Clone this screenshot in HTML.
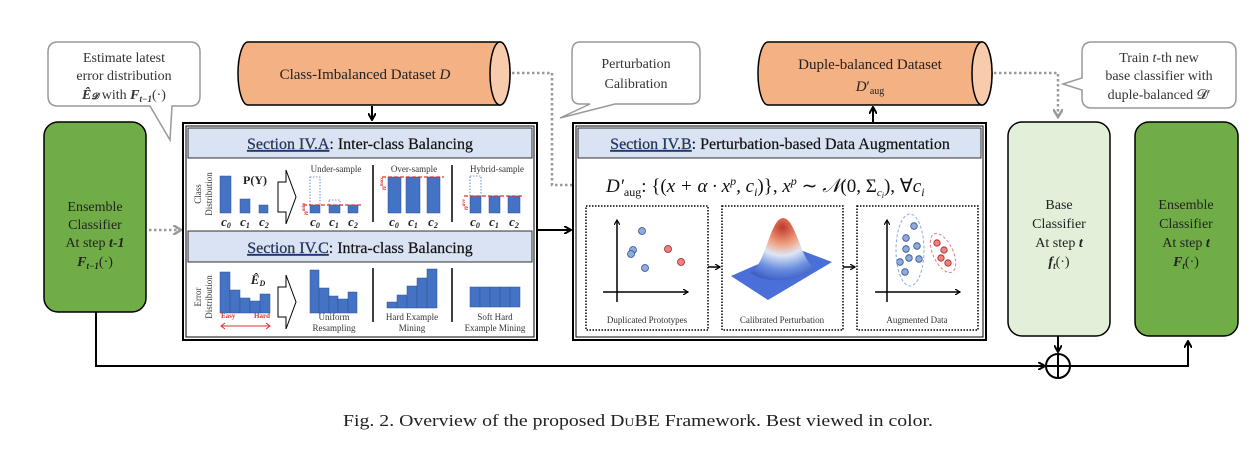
<!DOCTYPE html>
<html><head><meta charset="utf-8"><style>
html,body{margin:0;padding:0;background:#fff;}
svg{display:block;font-family:"Liberation Serif",serif;}
</style></head><body>
<svg width="1254" height="451" viewBox="0 0 1254 451" xmlns="http://www.w3.org/2000/svg">
<defs>
<marker id="ab" markerWidth="8" markerHeight="8" refX="6" refY="4" orient="auto" markerUnits="userSpaceOnUse"><path d="M0,0 L7,4 L0,8" fill="none" stroke="#000" stroke-width="2"/></marker>
<marker id="ag" markerWidth="10" markerHeight="10" refX="7" refY="5" orient="auto" markerUnits="userSpaceOnUse"><path d="M0,0 L8,5 L0,10" fill="none" stroke="#999" stroke-width="2.5"/></marker>
<marker id="as" markerWidth="6" markerHeight="6" refX="5" refY="3" orient="auto" markerUnits="userSpaceOnUse"><path d="M0,0 L5,3 L0,6" fill="none" stroke="#000" stroke-width="1.2"/></marker>
<radialGradient id="gs" cx="0.5" cy="0.15" r="0.9"><stop offset="0" stop-color="#c0392b"/><stop offset="0.3" stop-color="#f0a080"/><stop offset="0.5" stop-color="#dde6f5"/><stop offset="0.75" stop-color="#6b8fe0"/><stop offset="1" stop-color="#3656c0"/></radialGradient>
</defs>

<g fill="#fff" stroke="#999" stroke-width="1.5">
<path d="M58,42 H190 Q200,42 200,52 V96 Q200,106 190,106 H172 L170,140 L150,106 H58 Q48,106 48,96 V52 Q48,42 58,42 Z"/>
<path d="M580,42 H690 Q700,42 700,52 V96 Q700,104 690,104 H615 L560,118 L590,104 H580 Q572,104 572,96 V52 Q572,42 580,42 Z"/>
<path d="M1092,42 H1226 Q1236,42 1236,52 V98 Q1236,108 1226,108 H1092 Q1082,108 1082,98 V90 L1063,84 L1082,78 V52 Q1082,42 1092,42 Z"/>
</g>
<g font-size="14" fill="#333" text-anchor="middle">
<text x="124" y="62">Estimate latest</text>
<text x="124" y="80">error distribution</text>
<text x="124" y="99"><tspan font-weight="bold" font-style="italic">Ê</tspan><tspan font-size="9" font-weight="bold" font-style="italic">𝓓</tspan> with <tspan font-weight="bold" font-style="italic">F</tspan><tspan font-size="9" font-weight="bold" font-style="italic" dy="3">t−1</tspan><tspan dy="-3">(·)</tspan></text>
<text x="636" y="68">Perturbation</text>
<text x="636" y="88">Calibration</text>
<text x="1159" y="62">Train <tspan font-style="italic">t</tspan>-th new</text>
<text x="1159" y="80">base classifier with</text>
<text x="1159" y="99">duple-balanced 𝓓′</text>
</g>

<g stroke="#000" stroke-width="1.5">
<path d="M248,42 H500 A10,31.5 0 0 1 500,105 H248 A10,31.5 0 0 1 248,42 Z" fill="#f4b183"/>
<ellipse cx="500" cy="73.5" rx="10" ry="31.5" fill="#f8cbad"/>
<path d="M768,42 H982 A10,31.5 0 0 1 982,105 H768 A10,31.5 0 0 1 768,42 Z" fill="#f4b183"/>
<ellipse cx="982" cy="73.5" rx="10" ry="31.5" fill="#f8cbad"/>
</g>
<text x="365" y="79" font-size="15" fill="#222" text-anchor="middle">Class-Imbalanced Dataset <tspan font-style="italic">D</tspan></text>
<text x="870" y="69" font-size="15" fill="#222" text-anchor="middle">Duple-balanced Dataset</text>
<text x="870" y="91" font-size="15" fill="#222" text-anchor="middle"><tspan font-style="italic">D</tspan>′<tspan font-size="10" dy="3">aug</tspan></text>

<g fill="none" stroke="#999" stroke-width="2.5" stroke-dasharray="2.5,2.5">
<path d="M512,73 H552 V185 H580" marker-end="url(#ag)"/>
<path d="M994,73 H1058 V116" marker-end="url(#ag)"/>
<path d="M149,230 H180" marker-end="url(#ag)"/>
</g>
<g fill="none" stroke="#000" stroke-width="2">
<path d="M372,106 V119" marker-end="url(#ab)"/>
<path d="M873,122 V108" marker-end="url(#ab)"/>
<path d="M538,230 H570" marker-end="url(#ab)"/>
<path d="M96,312 V366 H1044" marker-end="url(#ab)"/>
<path d="M1058,336 V351" marker-end="url(#ab)"/>
<path d="M1071,366 H1188 V342" marker-end="url(#ab)"/>
</g>
<circle cx="1058" cy="366" r="12" fill="#fff" stroke="#000" stroke-width="2"/>
<path d="M1046,366 H1070 M1058,354 V378" stroke="#000" stroke-width="2"/>

<rect x="44" y="122" width="102" height="190" rx="14" fill="#70ad47" stroke="#000" stroke-width="1.5"/>
<rect x="1008" y="122" width="102" height="214" rx="14" fill="#e2efd9" stroke="#000" stroke-width="1.5"/>
<rect x="1135" y="122" width="103" height="214" rx="14" fill="#70ad47" stroke="#000" stroke-width="1.5"/>
<g font-size="14" fill="#222" text-anchor="middle">
<text x="95" y="211">Ensemble</text><text x="95" y="229">Classifier</text>
<text x="95" y="247">At step <tspan font-style="italic" font-weight="bold">t-1</tspan></text>
<text x="95" y="266"><tspan font-weight="bold" font-style="italic">F</tspan><tspan font-size="9" font-weight="bold" font-style="italic" dy="3">t−1</tspan><tspan dy="-3">(·)</tspan></text>
<text x="1059" y="209">Base</text><text x="1059" y="228">Classifier</text>
<text x="1059" y="247">At step <tspan font-style="italic" font-weight="bold">t</tspan></text>
<text x="1059" y="266"><tspan font-weight="bold" font-style="italic">f</tspan><tspan font-size="9" font-weight="bold" font-style="italic" dy="3">t</tspan><tspan dy="-3">(·)</tspan></text>
<text x="1186" y="209">Ensemble</text><text x="1186" y="228">Classifier</text>
<text x="1186" y="247">At step <tspan font-style="italic" font-weight="bold">t</tspan></text>
<text x="1186" y="266"><tspan font-weight="bold" font-style="italic">F</tspan><tspan font-size="9" font-weight="bold" font-style="italic" dy="3">t</tspan><tspan dy="-3">(·)</tspan></text>
</g>

<rect x="183" y="123" width="354" height="217" fill="#fff" stroke="#000" stroke-width="2"/>
<rect x="186" y="126" width="348" height="211" fill="none" stroke="#000" stroke-width="1"/>
<rect x="188" y="128" width="344" height="30" fill="#dae3f3" stroke="#000" stroke-width="0.8"/>
<rect x="188" y="231" width="344" height="31" fill="#dae3f3" stroke="#000" stroke-width="0.8"/>
<text x="360" y="149" font-size="16" text-anchor="middle" fill="#111" stroke="#111" stroke-width="0.2"><tspan fill="#1f3a7a" text-decoration="underline">Section IV.A</tspan>: Inter-class Balancing</text>
<text x="360" y="253" font-size="16" text-anchor="middle" fill="#111" stroke="#111" stroke-width="0.2"><tspan fill="#1f3a7a" text-decoration="underline">Section IV.C</tspan>: Intra-class Balancing</text>
<g font-size="9" fill="#333" text-anchor="middle">
<text transform="translate(201,194) rotate(-90)">Class</text>
<text transform="translate(212,194) rotate(-90)">Distribution</text>
<text transform="translate(201,297) rotate(-90)">Error</text>
<text transform="translate(212,297) rotate(-90)">Distribution</text>
</g>
<g fill="#4472c4" stroke="#2f528f" stroke-width="0.5">
<rect x="220" y="176" width="11" height="37"/><rect x="240" y="199" width="10" height="14"/><rect x="259" y="205" width="9" height="8"/>
<rect x="310" y="205" width="10" height="8"/><rect x="329" y="205" width="11" height="8"/><rect x="348" y="205" width="10" height="8"/>
<rect x="388" y="177" width="13" height="36"/><rect x="406" y="177" width="14" height="36"/><rect x="427" y="177" width="13" height="36"/>
<rect x="470" y="196" width="11" height="17"/><rect x="489" y="196" width="11" height="17"/><rect x="508" y="196" width="12" height="17"/>
<rect x="220" y="272" width="10" height="41"/><rect x="230" y="290" width="10" height="23"/><rect x="240" y="298" width="10" height="15"/><rect x="250" y="301" width="10" height="12"/><rect x="260" y="294" width="10" height="19"/>
<rect x="310" y="270" width="9" height="43"/><rect x="319" y="288" width="10" height="25"/><rect x="329" y="296" width="9" height="17"/><rect x="338" y="299" width="10" height="14"/><rect x="348" y="292" width="9" height="21"/>
<rect x="387" y="302" width="10" height="6"/><rect x="397" y="295" width="10" height="13"/><rect x="407" y="286" width="10" height="22"/><rect x="417" y="278" width="10" height="30"/><rect x="427" y="269" width="10" height="39"/>
<rect x="470" y="287" width="10" height="20"/><rect x="480" y="287" width="10" height="20"/><rect x="490" y="287" width="10" height="20"/><rect x="500" y="287" width="10" height="20"/><rect x="510" y="287" width="10" height="20"/>
</g>
<g fill="none" stroke="#4472c4" stroke-width="0.8" stroke-dasharray="1.5,1.5">
<rect x="310" y="177" width="10" height="28"/><rect x="329" y="200" width="11" height="5"/><rect x="470" y="176" width="11" height="20"/>
</g>
<g stroke="#e03030" stroke-width="1.2" stroke-dasharray="4,2">
<path d="M303,205 H362"/><path d="M382,177 H444"/><path d="M464,196 H524"/>
</g>
<g font-size="7" fill="#e03030" font-style="italic" font-weight="bold">
<text transform="translate(308,215) rotate(-90)">n<tspan font-size="5" dy="-3">min</tspan></text>
<text transform="translate(386,190) rotate(-90)">n<tspan font-size="5" dy="-3">max</tspan></text>
<text transform="translate(468,210) rotate(-90)">n<tspan font-size="5" dy="-3">ave</tspan></text>
</g>
<g stroke="#000" stroke-width="1.5"><path d="M373,165 V222 M452,165 V222 M373,268 V322 M452,268 V322"/></g>
<g fill="#fff" stroke="#000" stroke-width="1"><path d="M278,182 H286 V170 L296,197 L286,224 V212 H278 Z"/><path d="M278,287 H286 V275 L296,302 L286,329 V317 H278 Z"/></g>
<g font-size="13" fill="#222" font-style="italic" font-weight="bold" text-anchor="middle">
<text x="226" y="226">c<tspan font-size="8" dy="2">0</tspan></text><text x="245" y="226">c<tspan font-size="8" dy="2">1</tspan></text><text x="264" y="226">c<tspan font-size="8" dy="2">2</tspan></text>
<text x="315" y="226">c<tspan font-size="8" dy="2">0</tspan></text><text x="334" y="226">c<tspan font-size="8" dy="2">1</tspan></text><text x="353" y="226">c<tspan font-size="8" dy="2">2</tspan></text>
<text x="394" y="226">c<tspan font-size="8" dy="2">0</tspan></text><text x="413" y="226">c<tspan font-size="8" dy="2">1</tspan></text><text x="433" y="226">c<tspan font-size="8" dy="2">2</tspan></text>
<text x="475" y="226">c<tspan font-size="8" dy="2">0</tspan></text><text x="494" y="226">c<tspan font-size="8" dy="2">1</tspan></text><text x="514" y="226">c<tspan font-size="8" dy="2">2</tspan></text>
<text x="258" y="284">Ê<tspan font-size="8" dy="2">D</tspan></text>
</g>
<text x="255" y="184" font-size="12" font-weight="bold" fill="#222" text-anchor="middle">P(Y)</text>
<g font-size="9" fill="#333" text-anchor="middle">
<text x="336" y="172">Under-sample</text><text x="414" y="172">Over-sample</text><text x="497" y="172">Hybrid-sample</text>
<text x="334" y="320">Uniform</text><text x="334" y="331">Resampling</text>
<text x="412" y="320">Hard Example</text><text x="412" y="331">Mining</text>
<text x="495" y="320">Soft Hard</text><text x="495" y="331">Example Mining</text>
</g>
<text x="221" y="318" font-size="7" fill="#e03030" font-weight="bold">Easy</text>
<text x="270" y="318" font-size="7" fill="#e03030" font-weight="bold" text-anchor="end">Hard</text>
<path d="M222,326 H269 M225,323 L221,326 L225,329 M266,323 L270,326 L266,329" stroke="#e03030" fill="none" stroke-width="1"/>

<rect x="573" y="123" width="413" height="217" fill="#fff" stroke="#000" stroke-width="2"/>
<rect x="576" y="126" width="407" height="211" fill="none" stroke="#000" stroke-width="1"/>
<rect x="578" y="128" width="403" height="30" fill="#dae3f3" stroke="#000" stroke-width="0.8"/>
<text x="780" y="149" font-size="16" text-anchor="middle" fill="#111" stroke="#111" stroke-width="0.2"><tspan fill="#1f3a7a" text-decoration="underline">Section IV.B</tspan>: Perturbation-based Data Augmentation</text>
<text x="606" y="192" font-size="19" fill="#111" font-style="italic">D′<tspan font-size="12" font-style="normal" dy="4">aug</tspan><tspan dy="-4" font-style="normal">: {(</tspan>x + α · x<tspan font-size="12" dy="-7">p</tspan><tspan dy="7">, c</tspan><tspan font-size="12" dy="4">i</tspan><tspan dy="-4" font-style="normal">)}, </tspan>x<tspan font-size="12" dy="-7">p</tspan><tspan dy="7" font-style="normal"> ∼ </tspan>𝒩<tspan font-style="normal">(0, Σ</tspan><tspan font-size="11" dy="4">c</tspan><tspan font-size="8" dy="2">i</tspan><tspan dy="-6" font-style="normal">), ∀</tspan>c<tspan font-size="12" dy="4">i</tspan></text>
<g fill="none" stroke="#000" stroke-width="1.5" stroke-dasharray="1.5,1.5">
<rect x="586" y="206" width="122" height="124"/><rect x="722" y="206" width="121" height="124"/><rect x="857" y="206" width="121" height="124"/>
</g>
<g stroke="#000" stroke-width="1.5" fill="none">
<path d="M617,302 V220" marker-end="url(#as)"/><path d="M603,292 H688" marker-end="url(#as)"/>
<path d="M887,302 V220" marker-end="url(#as)"/><path d="M875,292 H960" marker-end="url(#as)"/>
<path d="M708,267 H720" marker-end="url(#as)"/><path d="M843,267 H855" marker-end="url(#as)"/>
</g>
<g stroke="#2f528f" stroke-width="0.8" fill="#8faadc">
<circle cx="642" cy="231" r="3.5"/><circle cx="633" cy="250" r="3.5"/><circle cx="631" cy="254" r="3.5"/><circle cx="645" cy="268" r="3.5"/>
<circle cx="914" cy="226" r="3.3"/><circle cx="906" cy="238" r="3.3"/><circle cx="906" cy="249" r="3.3"/><circle cx="917" cy="246" r="3.3"/><circle cx="900" cy="262" r="3.3"/><circle cx="909" cy="258" r="3.3"/><circle cx="905" cy="272" r="3.3"/><circle cx="919" cy="259" r="3.3"/>
</g>
<g stroke="#a02020" stroke-width="0.8" fill="#f08080">
<circle cx="668" cy="249" r="3.5"/><circle cx="681" cy="262" r="3.5"/>
<circle cx="937" cy="243" r="3.2"/><circle cx="944" cy="250" r="3.2"/><circle cx="941" cy="258" r="3.2"/><circle cx="948" cy="263" r="3.2"/>
</g>
<ellipse cx="910" cy="250" rx="14" ry="36" fill="none" stroke="#8faadc" stroke-dasharray="3,2"/>
<ellipse cx="943" cy="253" rx="10" ry="21" transform="rotate(-25 943 253)" fill="none" stroke="#e08080" stroke-dasharray="3,2"/>
<path d="M731,276 L795,248 L832,262 L768,300 Z" fill="#4a6fd8"/>
<path d="M750,272 C765,268 770,218 783,218 C796,218 801,262 815,268 C800,282 765,285 750,272 Z" fill="url(#gs)"/>
<g font-size="9" fill="#333" text-anchor="middle">
<text x="647" y="323">Duplicated Prototypes</text><text x="782" y="323">Calibrated Perturbation</text><text x="917" y="323">Augmented Data</text>
</g>

<text x="343" y="426" font-size="17" fill="#222" textLength="590" lengthAdjust="spacingAndGlyphs">Fig. 2.  Overview of the proposed D<tspan font-size="12">U</tspan>BE Framework. Best viewed in color.</text>
</svg>
</body></html>
